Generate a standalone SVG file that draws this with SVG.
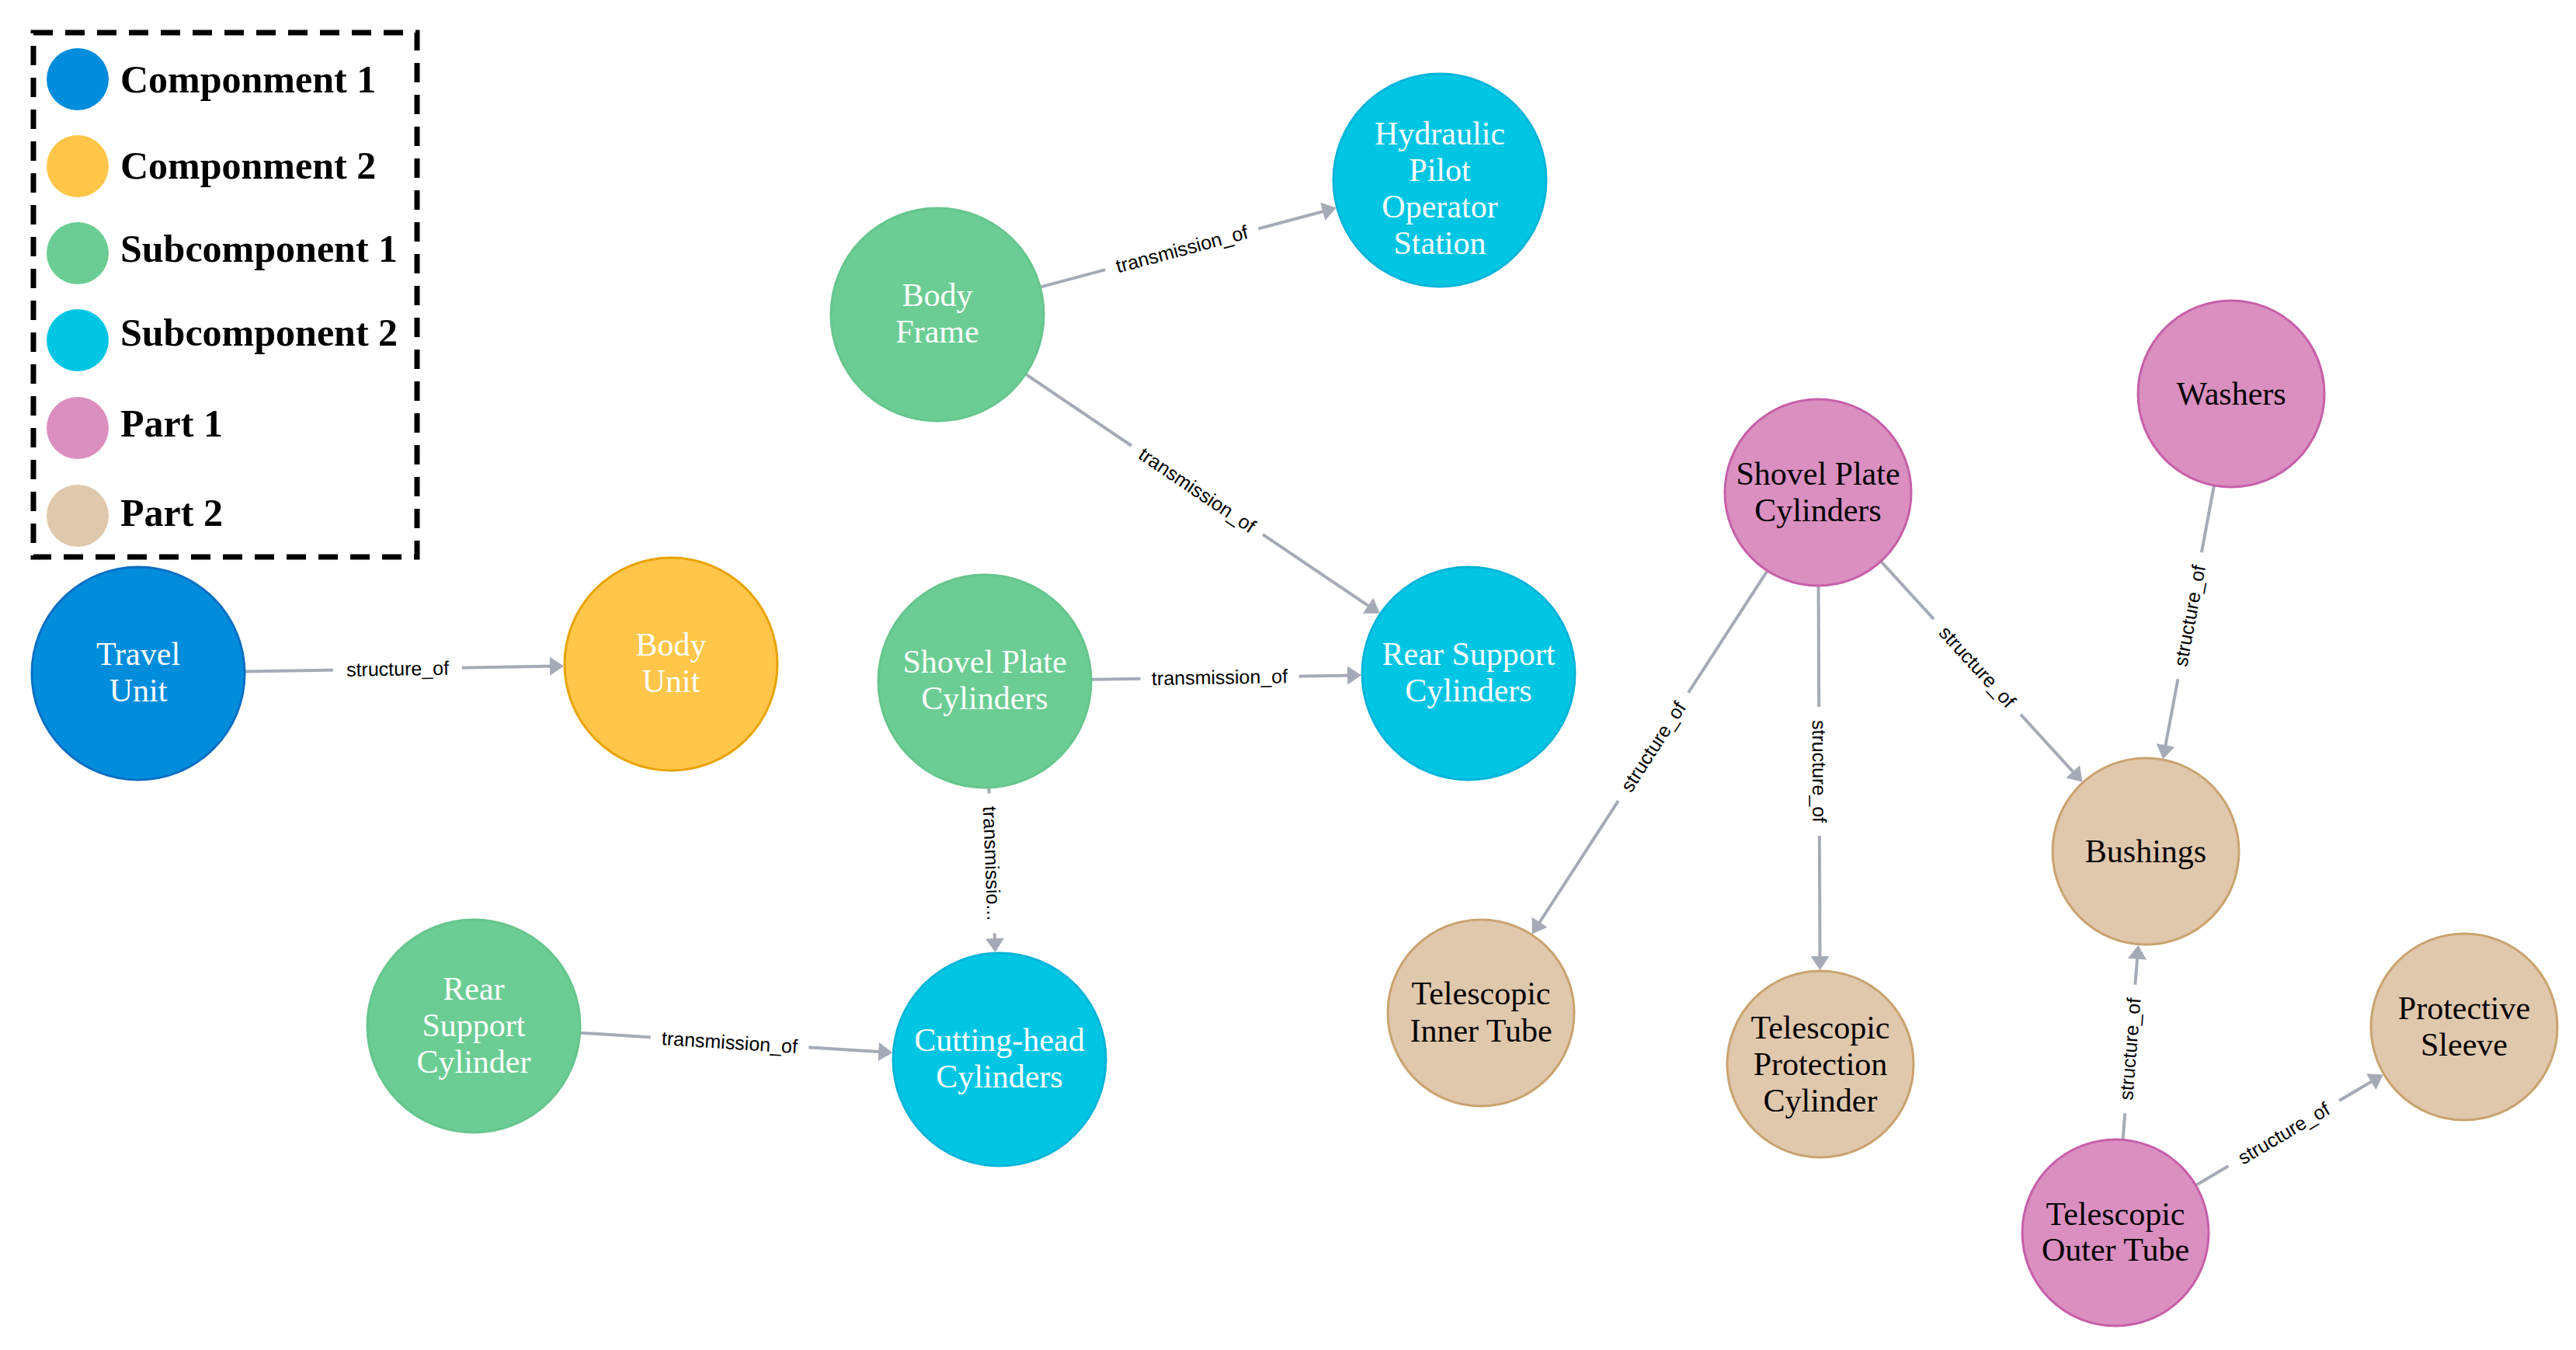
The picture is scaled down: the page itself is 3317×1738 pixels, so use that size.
<svg xmlns="http://www.w3.org/2000/svg" width="3317" height="1738" viewBox="0 0 3317 1738">
<style>
.bg{fill:#ffffff}
.lg{fill:none;stroke:#000;stroke-width:7;stroke-dasharray:25 16}
.lt{font-family:"Liberation Serif","Times New Roman",serif;font-weight:bold;font-size:50px;fill:#000}
.nt{font-family:"Liberation Serif","Times New Roman",serif;font-size:42px;text-anchor:middle}
.w{fill:#ffffff}
.k{fill:#000000}
.c1{fill:#028DDC;stroke:#0B6FC4;stroke-width:3}
.c2{fill:#FFC649;stroke:#E8A300;stroke-width:3}
.s1{fill:#6BCD93;stroke:#66C68D;stroke-width:3}
.s2{fill:#00C6E4;stroke:#00B4D9;stroke-width:3}
.p1{fill:#DA8FC0;stroke:#C75FA9;stroke-width:3}
.p2{fill:#E0C8AD;stroke:#C9A36F;stroke-width:3}
.e{stroke:#A5ABB6;stroke-width:4;fill:none;marker-end:url(#ah)}
.gap{fill:#ffffff}
.el{font-family:"Liberation Sans",Arial,sans-serif;font-size:25px;fill:#000;text-anchor:middle}
</style>
<defs>
<marker id="ah" markerUnits="userSpaceOnUse" markerWidth="20" markerHeight="26" viewBox="0 0 20 26" refX="9" refY="13" orient="auto">
<path d="M1,1 L19,13 L1,25 Z" fill="#A5ABB6"/>
</marker>
</defs>
<rect class="bg" x="0" y="0" width="3317" height="1738"/>

<g id="legend">
<rect class="lg" x="43" y="42" width="494" height="675"/>
<circle cx="100" cy="102" r="40" fill="#028DDC"/>
<circle cx="100" cy="214" r="40" fill="#FFC649"/>
<circle cx="100" cy="326" r="40" fill="#6BCD93"/>
<circle cx="100" cy="438" r="40" fill="#00C6E4"/>
<circle cx="100" cy="551" r="40" fill="#DA8FC0"/>
<circle cx="100" cy="664" r="40" fill="#E0C8AD"/>
<text class="lt" x="155" y="119">Componment 1</text>
<text class="lt" x="155" y="230">Componment 2</text>
<text class="lt" x="155" y="337">Subcomponent 1</text>
<text class="lt" x="155" y="445">Subcomponent 2</text>
<text class="lt" x="155" y="562">Part 1</text>
<text class="lt" x="155" y="677">Part 2</text>
</g>

<g id="connectors">
<line class="e" x1="316" y1="864.6" x2="716" y2="857.6"/>
<line class="e" x1="1340.3" y1="369.4" x2="1711" y2="270.2"/>
<line class="e" x1="1321.4" y1="482.2" x2="1768.3" y2="784.2"/>
<line class="e" x1="1406" y1="874.8" x2="1743" y2="869.4"/>
<line class="e" x1="1273.4" y1="1014.9" x2="1281.2" y2="1216.1"/>
<line class="e" x1="747.7" y1="1329.7" x2="1139.3" y2="1354.6"/>
<line class="e" x1="2275.2" y1="735.6" x2="1978.2" y2="1194"/>
<line class="e" x1="2341.5" y1="755" x2="2343.5" y2="1239"/>
<line class="e" x1="2422.6" y1="723.3" x2="2674.6" y2="999.3"/>
<line class="e" x1="2850.8" y1="625.9" x2="2787" y2="967.3"/>
<line class="e" x1="2733.6" y1="1466.4" x2="2752.6" y2="1226.6"/>
<line class="e" x1="2828.2" y1="1525.5" x2="3060.2" y2="1388.6"/>

<g transform="translate(512 861.2) rotate(-1)"><rect class="gap" x="-83" y="-7" width="166" height="14"/><text class="el" y="8.5">structure_of</text></g>
<g transform="translate(1521.8 320.8) rotate(-14.97)"><rect class="gap" x="-102" y="-7" width="204" height="14"/><text class="el" y="8.5">transmission_of</text></g>
<g transform="translate(1541.5 631) rotate(34.03)"><rect class="gap" x="-102" y="-7" width="204" height="14"/><text class="el" y="8.5">transmission_of</text></g>
<g transform="translate(1570.5 872.1) rotate(-0.92)"><rect class="gap" x="-102" y="-7" width="204" height="14"/><text class="el" y="8.5">transmission_of</text></g>
<g transform="translate(1277.1 1111.5) rotate(87.77)"><rect class="gap" x="-90" y="-7" width="180" height="14"/><text class="el" y="8.5">transmissio...</text></g>
<g transform="translate(939.5 1342) rotate(3.63)"><rect class="gap" x="-102" y="-7" width="204" height="14"/><text class="el" y="8.5">transmission_of</text></g>
<g transform="translate(2128.9 961.4) rotate(-57.07)"><rect class="gap" x="-83" y="-7" width="166" height="14"/><text class="el" y="8.5">structure_of</text></g>
<g transform="translate(2342.5 993) rotate(89.77)"><rect class="gap" x="-83" y="-7" width="166" height="14"/><text class="el" y="8.5">structure_of</text></g>
<g transform="translate(2546 858.4) rotate(47.59)"><rect class="gap" x="-83" y="-7" width="166" height="14"/><text class="el" y="8.5">structure_of</text></g>
<g transform="translate(2819.7 792.7) rotate(-79.42)"><rect class="gap" x="-83" y="-7" width="166" height="14"/><text class="el" y="8.5">structure_of</text></g>
<g transform="translate(2742.8 1350.5) rotate(-85.46)"><rect class="gap" x="-83" y="-7" width="166" height="14"/><text class="el" y="8.5">structure_of</text></g>
<g transform="translate(2940.8 1459.1) rotate(-30.55)"><rect class="gap" x="-83" y="-7" width="166" height="14"/><text class="el" y="8.5">structure_of</text></g>
</g>

<g id="travel-unit"><circle class="c1" cx="178" cy="867" r="137"/><text class="nt w"><tspan x="178" y="856">Travel</tspan><tspan x="178" y="903">Unit</tspan></text></g>
<g id="body-unit"><circle class="c2" cx="864" cy="855" r="137"/><text class="nt w"><tspan x="864" y="844">Body</tspan><tspan x="864" y="891">Unit</tspan></text></g>
<g id="body-frame"><circle class="s1" cx="1207" cy="405" r="137"/><text class="nt w"><tspan x="1207" y="394">Body</tspan><tspan x="1207" y="441">Frame</tspan></text></g>
<g id="hydraulic-pilot-operator-station"><circle class="s2" cx="1854" cy="232" r="137"/><text class="nt w"><tspan x="1854" y="186">Hydraulic</tspan><tspan x="1854" y="233">Pilot</tspan><tspan x="1854" y="280">Operator</tspan><tspan x="1854" y="327">Station</tspan></text></g>
<g id="shovel-plate-cylinders-sub"><circle class="s1" cx="1268" cy="877" r="137"/><text class="nt w"><tspan x="1268" y="866">Shovel Plate</tspan><tspan x="1268" y="913">Cylinders</tspan></text></g>
<g id="rear-support-cylinders"><circle class="s2" cx="1891" cy="867" r="137"/><text class="nt w"><tspan x="1891" y="856">Rear Support</tspan><tspan x="1891" y="903">Cylinders</tspan></text></g>
<g id="rear-support-cylinder"><circle class="s1" cx="610" cy="1321" r="137"/><text class="nt w"><tspan x="610" y="1287">Rear</tspan><tspan x="610" y="1334">Support</tspan><tspan x="610" y="1381">Cylinder</tspan></text></g>
<g id="cutting-head-cylinders"><circle class="s2" cx="1287" cy="1364" r="137"/><text class="nt w"><tspan x="1287" y="1353">Cutting-head</tspan><tspan x="1287" y="1400">Cylinders</tspan></text></g>
<g id="shovel-plate-cylinders-part"><circle class="p1" cx="2341" cy="634" r="120"/><text class="nt k"><tspan x="2341" y="624">Shovel Plate</tspan><tspan x="2341" y="671">Cylinders</tspan></text></g>
<g id="washers"><circle class="p1" cx="2873" cy="507" r="120"/><text class="nt k"><tspan x="2873" y="521">Washers</tspan></text></g>
<g id="bushings"><circle class="p2" cx="2763" cy="1096" r="120"/><text class="nt k"><tspan x="2763" y="1110">Bushings</tspan></text></g>
<g id="telescopic-inner-tube"><circle class="p2" cx="1907" cy="1304" r="120"/><text class="nt k"><tspan x="1907" y="1293">Telescopic</tspan><tspan x="1907" y="1341">Inner Tube</tspan></text></g>
<g id="telescopic-protection-cylinder"><circle class="p2" cx="2344" cy="1370" r="120"/><text class="nt k"><tspan x="2344" y="1337">Telescopic</tspan><tspan x="2344" y="1384">Protection</tspan><tspan x="2344" y="1431">Cylinder</tspan></text></g>
<g id="protective-sleeve"><circle class="p2" cx="3173" cy="1322" r="120"/><text class="nt k"><tspan x="3173" y="1312">Protective</tspan><tspan x="3173" y="1359">Sleeve</tspan></text></g>
<g id="telescopic-outer-tube"><circle class="p1" cx="2724" cy="1587" r="120"/><text class="nt k"><tspan x="2724" y="1577">Telescopic</tspan><tspan x="2724" y="1623">Outer Tube</tspan></text></g>
</svg>
